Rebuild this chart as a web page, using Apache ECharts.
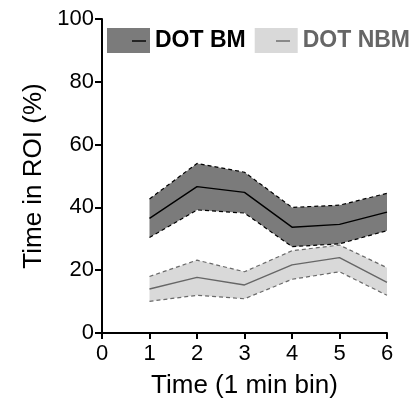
<!DOCTYPE html>
<html>
<head>
<meta charset="utf-8">
<script src="https://cdn.jsdelivr.net/npm/echarts@6/dist/echarts.min.js"></script>
<style>
  html, body { margin: 0; padding: 0; background: #fff; }
  #main { width: 415px; height: 410px; }
</style>
</head>
<body>
<div id="main"></div>
<script>
// time bins
var bins = [1, 2, 3, 4, 5, 6];
// DOT BM: mean and band (upper / lower)
var bmMean  = [36.5, 46.6, 44.8, 33.7, 34.6, 38.5];
var bmUpper = [42.7, 54.0, 51.2, 40.0, 40.7, 44.5];
var bmLower = [30.4, 39.2, 38.2, 27.5, 28.4, 32.6];
// DOT NBM
var nbmMean  = [14.0, 17.7, 15.3, 21.7, 24.0, 16.1];
var nbmUpper = [18.0, 23.2, 19.5, 26.2, 28.0, 20.8];
var nbmLower = [10.1, 12.0, 10.9, 17.1, 19.5, 12.0];

var font = 'Liberation Sans, Arial, Helvetica, sans-serif';

function pairs(vals) {
  return bins.map(function (b, i) { return [b, vals[i]]; });
}

// band drawn as one polygon through the axis scales
function bandSeries(name, up, lo, fill, z) {
  return {
    name: name, type: 'custom', z: z,
    itemStyle: { color: fill },
    data: bins.map(function (b, i) { return [b, lo[i], up[i]]; }),
    renderItem: function (params, api) {
      if (params.dataIndex !== 0) return;
      var pts = [];
      bins.forEach(function (b, i) { pts.push(api.coord([b, up[i]])); });
      for (var i = bins.length - 1; i >= 0; i--) pts.push(api.coord([bins[i], lo[i]]));
      return { type: 'polygon', shape: { points: pts }, style: { fill: fill } };
    }
  };
}

function lineSeries(id, vals, color, dashed, z) {
  return {
    name: id, type: 'line', data: pairs(vals), symbol: 'none', z: z,
    lineStyle: { color: color, width: dashed ? 1.2 : 1.4, type: dashed ? [4, 3] : 'solid' }
  };
}

var chart = echarts.init(document.getElementById('main'));

chart.setOption({
  animation: false,
  grid: { left: 102, right: 28, top: 19, bottom: 77 },
  legend: {
    left: 107, top: 28, padding: 0,
    itemWidth: 43, itemHeight: 25, itemGap: 9,
    icon: 'rect',
    selectedMode: false,
    textStyle: { fontFamily: font, fontSize: 23, fontWeight: 'bold' },
    data: [
      { name: 'DOT BM', textStyle: { color: '#000' } },
      { name: 'DOT NBM', textStyle: { color: '#666' } }
    ]
  },
  graphic: [
    { type: 'line', shape: { x1: 132, y1: 41, x2: 146, y2: 41 }, style: { stroke: '#000', lineWidth: 1.4 }, z: 100 },
    { type: 'line', shape: { x1: 276, y1: 41, x2: 290, y2: 41 }, style: { stroke: '#666', lineWidth: 1.4 }, z: 100 }
  ],
  xAxis: {
    type: 'value', min: 0, max: 6, interval: 1,
    name: 'Time (1 min bin)', nameLocation: 'middle', nameGap: 40,
    nameTextStyle: { fontFamily: font, fontSize: 26, color: '#000' },
    axisLine: { lineStyle: { color: '#000', width: 2 } },
    axisTick: { length: 6, lineStyle: { color: '#000', width: 2 } },
    axisLabel: { fontFamily: font, fontSize: 22, color: '#000', margin: 10 },
    splitLine: { show: false }
  },
  yAxis: {
    type: 'value', min: 0, max: 100, interval: 20,
    name: 'Time in ROI (%)', nameLocation: 'middle', nameGap: 54,
    nameTextStyle: { fontFamily: font, fontSize: 26, color: '#000' },
    axisLine: { show: true, lineStyle: { color: '#000', width: 2 } },
    axisTick: { show: true, length: 7, lineStyle: { color: '#000', width: 2 } },
    axisLabel: { fontFamily: font, fontSize: 22, color: '#000', margin: 8 },
    splitLine: { show: false }
  },
  series: [
    bandSeries('DOT NBM', nbmUpper, nbmLower, '#d9d9d9', 2),
    lineSeries('nbm_up', nbmUpper, '#6a6a6a', true, 3),
    lineSeries('nbm_lo', nbmLower, '#6a6a6a', true, 3),
    lineSeries('nbm_mean', nbmMean, '#666666', false, 3),
    bandSeries('DOT BM', bmUpper, bmLower, '#7b7b7b', 4),
    lineSeries('bm_up', bmUpper, '#000000', true, 5),
    lineSeries('bm_lo', bmLower, '#000000', true, 5),
    lineSeries('bm_mean', bmMean, '#000000', false, 5)
  ]
});
</script>
</body>
</html>
